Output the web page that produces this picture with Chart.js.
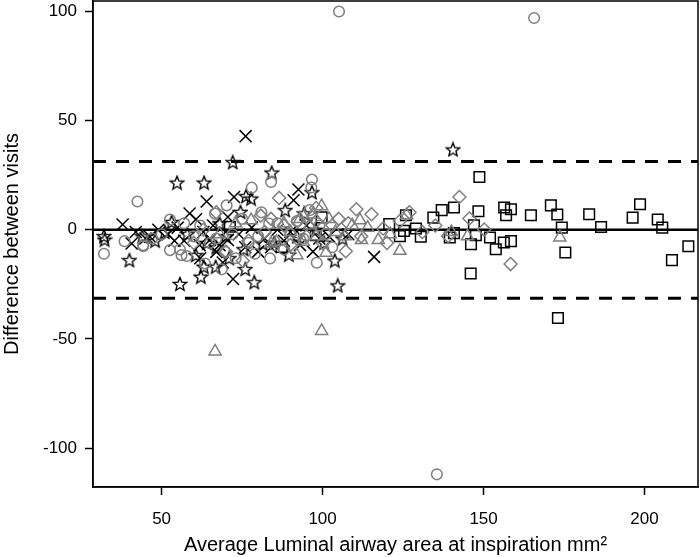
<!DOCTYPE html>
<html>
<head>
<meta charset="utf-8">
<script src="https://cdn.jsdelivr.net/npm/chart.js@4.4.1/dist/chart.umd.min.js"></script>
<style>
html,body{margin:0;padding:0;background:#fff;}
#wrap{width:700px;height:557px;}
</style>
</head>
<body>
<div id="wrap"><canvas id="c" width="700" height="557"></canvas></div>
<script>
// ---- data (x = average luminal airway area, y = difference between visits) ----
const circleX = [105.1,165.7,135.5,32.1,42.5,96.7,96.5,78,84,70.2,83.7,98.2,69.7,68.7,83.4,52.6,38.5,44.3,52.6,55.7,57.8,66.6,63.5,75,80,85,90,92,88,60,62,47,50,57,65,72,77,81,86,94,99,101,103,96,73,79,67,56.2,44.3];
const circleY = [100,97,-112,-11,13,23,19.4,19.3,21.9,11.2,-13.1,-15.1,-10.1,-18.1,2.9,4.7,-5.2,-7.5,-9.3,-9,-12,7.4,-15.4,5,-3,-7,-2,4,-9,-3,2,-4,-2,3,-6,-2,-6,8,3,-4,2,-2,-8,9,-13,-11,-4,-11.6,-7];

const starX = [54.8,63.2,72.1,84.2,96.7,140.5,104.7,103.8,106.2,100.5,76.2,77.8,74.5,88.4,94.3,78.8,75.5,89.5,66.8,55.7,62.2,40,32.1,32.3,53.1,44,48,51,58,60.6,64,68,70,71,81.4,85,92,98,63.1,76,67];
const starY = [21.6,21.6,31,26.2,17.2,36.8,-25.5,-14.1,-4,-5.9,15.4,14.3,8.2,9,7.5,-24,-8.9,-11.4,-16.9,-24.8,-21.5,-13.9,-2.9,-4.5,3.6,-3,-5,-1,-2,-11.6,-6,3,-3,-13,-6.3,-6,-3,0,-16.9,-18,-8];

const crossX = [76.1,92.5,91,72.5,72.2,116,64,37.9,58.7,60.7,70.6,61.8,65,67,70.6,46.4,40.7,42,45,49,52,55,57,63,66,68,74,76,78,80,82,84,86,88,90,93,95,97,99,102,108,62,69,54];
const crossY = [42.9,18.5,13.5,15,-22.5,-12.4,13,2.4,7.5,4.8,5.9,-7,-4.7,-10.1,-4.7,-3.2,-6.3,-1,-4,0,-2,1,-5,-1,2,-7,-2,-8,1,-10,-4,-8,0,-5,-1,-7,2,-10,-4,-3,-2,-13,-15,-5];

const diamondX = [158.4,142.5,145.6,150.2,110.5,115.2,107.2,139,86.5,75.2,80.8,118.8,67,70,77,82,84,88,90,92.3,95,98,100,103,105,108,112,120,124,127,131,135,98,60,63];
const diamondY = [-15.7,15,5.2,0.1,9.4,7.1,-9.8,-2.9,14.6,-14.2,6.5,0.6,8,-10,-5,-1,5,2,-7,3.9,-3,4,-6,2.1,5,3,-3,-6,4,8,-1,2,10,-6,0];

const triangleX = [66.6,99.7,173.7,124,117.3,112.1,107,111.6,99.7,101.1,92,94,85.7,126.1,88,90,96,98,102,104,109.2,114,121,97,93,77.8,84,73,68,140,145];
const triangleY = [-55.7,-46.3,-3.5,-9.6,-4.7,-4.7,-3,4.4,10.8,-10.5,-11.6,-5.5,-5.5,6.7,3,-1,2,-3,5,-1,2.1,1,-2,7,5,4.4,-6.3,3,-2,-1,-3];

const squareX = [71.2,87.3,97.9,99.7,120.7,125.9,125.3,124,129,130.5,134.4,137,140.8,140.8,139.5,148.7,148.4,156.4,158.5,157,164.7,170.9,172.9,174.3,175.4,147,147.6,146.1,152,153.8,156.3,158.5,146,173.1,182.8,186.5,198.6,196.3,204.1,205.5,208.5,213.6];
const squareY = [1.4,-7.8,-2.5,5.7,2.6,6.7,-0.5,-2.9,0.6,-3.2,5.6,9,10.2,-1.5,-3.5,24.2,8.5,10.2,9.4,6.7,6.7,11.2,7,1,-10.4,2.1,-2.5,-6.6,-3.5,-8.9,-5.8,-5.2,-20,-40.4,7.1,1.3,11.7,5.6,4.7,1,-13.9,-7.5];

const meanDiff = 0;
const upperLimit = 31.3;
const lowerLimit = -31.3;
const xRange = [28.7, 216.6];
const yRange = [-117.8, 104.8];
const xTicks = [50, 100, 150, 200];
const yTicks = [-100, -50, 0, 50, 100];

// ---- helpers ----
const pts = (xs, ys) => xs.map((x, i) => ({x: x, y: ys[i]}));
const GRAY = '#7f7f7f';
const BLACK = '#000000';

function starIcon() {
  const s = 16, c = document.createElement('canvas');
  c.width = s; c.height = s;
  const g = c.getContext('2d');
  const R = 7, r = 3.1, cx = s / 2, cy = s / 2 + 0.6;
  g.beginPath();
  for (let i = 0; i < 10; i++) {
    const a = -Math.PI / 2 + i * Math.PI / 5;
    const rad = i % 2 === 0 ? R : r;
    const px = cx + rad * Math.cos(a), py = cy + rad * Math.sin(a);
    if (i === 0) g.moveTo(px, py); else g.lineTo(px, py);
  }
  g.closePath();
  g.lineWidth = 1.4;
  g.strokeStyle = BLACK;
  g.lineJoin = 'miter';
  g.stroke();
  return c;
}

const hline = (y, dash, w) => ({
  type: 'line',
  data: [{x: xRange[0], y: y}, {x: xRange[1], y: y}],
  borderColor: BLACK, borderWidth: w, borderDash: dash,
  pointRadius: 0, pointHoverRadius: 0, fill: false, order: 10
});

const scat = (data, style, color, radius, width) => ({
  type: 'scatter', data: data, pointStyle: style,
  borderColor: color, backgroundColor: 'rgba(0,0,0,0)',
  pointBorderColor: color, pointBackgroundColor: 'rgba(0,0,0,0)',
  pointRadius: radius, pointBorderWidth: width, pointHoverRadius: radius
});

const boxPlugin = {
  id: 'box',
  afterDraw(chart) {
    const a = chart.chartArea, ctx = chart.ctx;
    ctx.save();
    ctx.strokeStyle = BLACK; ctx.lineWidth = 1.5;
    ctx.strokeRect(a.left, a.top, a.right - a.left, a.bottom - a.top);
    ctx.restore();
  }
};

new Chart(document.getElementById('c'), {
  data: {
    datasets: [
      hline(upperLimit, [13, 10], 3),
      hline(lowerLimit, [13, 10], 3),
      hline(meanDiff, [], 2.5),
      scat(pts(circleX, circleY), 'circle', GRAY, 5.3, 1.5),
      scat(pts(diamondX, diamondY), 'rectRot', GRAY, 6.5, 1.5),
      scat(pts(triangleX, triangleY), 'triangle', GRAY, 7, 1.5),
      scat(pts(crossX, crossY), 'crossRot', BLACK, 8.5, 1.5),
      scat(pts(starX, starY), starIcon(), BLACK, 7, 1.5),
      scat(pts(squareX, squareY), 'rect', BLACK, 7.5, 1.5)
    ]
  },
  options: {
    responsive: false, animation: false, devicePixelRatio: 1,
    layout: {autoPadding: false, padding: {left: 0, right: 2, top: 1, bottom: 0}},
    plugins: {legend: {display: false}, tooltip: {enabled: false}},
    scales: {
      x: {
        type: 'linear', position: 'bottom', min: xRange[0], max: xRange[1],
        afterFit: s => { s.height = 70; s.paddingLeft = 0; s.paddingRight = 0; },
        afterBuildTicks: s => { s.ticks = xTicks.map(v => ({value: v})); },
        border: {display: true, color: BLACK, width: 1.5},
        grid: {drawOnChartArea: false, drawTicks: true, tickLength: 8, color: BLACK, tickWidth: 1.5},
        ticks: {color: BLACK, font: {family: 'Liberation Sans', size: 17}, padding: 14, maxRotation: 0},
        title: {display: true, text: 'Average Luminal airway area at inspiration mm²', color: BLACK,
                font: {family: 'Liberation Sans', size: 20}, padding: {top: 0, bottom: 0}}
      },
      y: {
        type: 'linear', position: 'left', min: yRange[0], max: yRange[1],
        afterFit: s => { s.width = 93; s.paddingTop = 0; s.paddingBottom = 0; },
        afterBuildTicks: s => { s.ticks = yTicks.map(v => ({value: v})); },
        border: {display: true, color: BLACK, width: 1.5},
        grid: {drawOnChartArea: false, drawTicks: true, tickLength: 8, color: BLACK, tickWidth: 1.5},
        ticks: {color: BLACK, font: {family: 'Liberation Sans', size: 17}, padding: 8},
        title: {display: true, text: 'Difference between visits', color: BLACK,
                font: {family: 'Liberation Sans', size: 20}, padding: {top: 0, bottom: 0}}
      }
    }
  },
  plugins: [boxPlugin]
});
</script>
</body>
</html>
